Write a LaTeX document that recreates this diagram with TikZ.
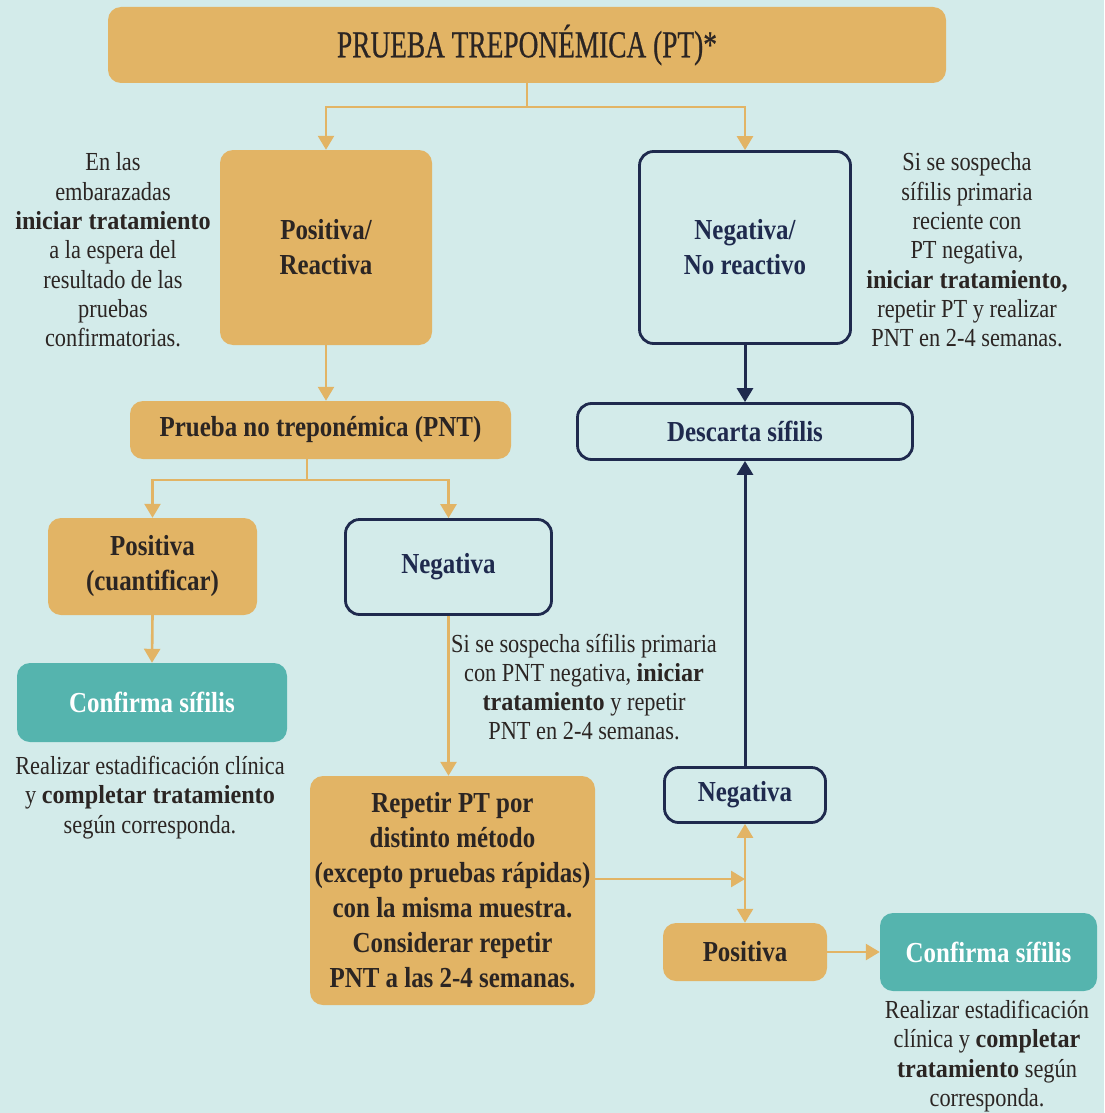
\documentclass[tikz,border=0pt]{standalone}
\usepackage{fontspec}
\setmainfont{Liberation Serif}[FakeStretch=0.86]
\newfontfamily\titlefont{Liberation Serif}[FakeStretch=0.72, FakeBold=0.6]
\newfontfamily\boldwide{Liberation Serif Bold}[FakeStretch=0.93]
\newcommand\hl[1]{{\boldwide #1}}
\usetikzlibrary{arrows.meta}

\definecolor{bg}{HTML}{D3EBEA}
\definecolor{gold}{HTML}{E2B465}
\definecolor{navy}{HTML}{1F2A4E}
\definecolor{tealbox}{HTML}{55B4AE}
\definecolor{ink}{HTML}{2B2523}

\tikzset{
  boxfont/.style={font=\bfseries\fontsize{29}{35}\selectfont},
  goldbox/.style={fill=gold, rounded corners=13pt, text=ink, boxfont, align=center, inner sep=0pt},
  navybox/.style={draw=navy, line width=2.8pt, rounded corners=14pt, text=navy, boxfont, align=center, inner sep=0pt},
  tealbx/.style={fill=tealbox, rounded corners=13pt, text=white, boxfont, align=center, inner sep=0pt},
  note/.style={text=ink, font=\fontsize{26}{29.3}\selectfont, align=center, inner sep=0pt},
  tip/.tip={Triangle[width=16pt,length=14pt]},
  gline/.style={draw=gold, line width=2.6pt},
  garrow/.style={gline, -tip},
  narrow/.style={draw=navy, line width=3pt, -tip},
}

\begin{document}
\begin{tikzpicture}[x=1pt, y=-1pt]
\fill[bg] (0,0) rectangle (1104,1113);
\useasboundingbox (0,0) rectangle (1104,1113);

% title
\node[goldbox, minimum width=838pt, minimum height=76pt,
      font=\titlefont\fontsize{38}{40}\selectfont] (pt) at (527,45) {\raisebox{-2pt}{PRUEBA TREPONÉMICA (PT)*}};

% first level
\node[goldbox, minimum width=212pt, minimum height=195pt] (pos) at (326,247.5) {Positiva/\\Reactiva};
\node[navybox, minimum width=211pt, minimum height=192pt] (neg) at (745,247.5) {Negativa/\\No reactivo};

% non-treponemal test
\node[goldbox, minimum width=381pt, minimum height=58pt] (pnt) at (320.5,430) {Prueba no treponémica (PNT)};
\node[navybox, minimum width=335pt, minimum height=56pt] (desc) at (745,431.5) {Descarta sífilis};

% second level
\node[goldbox, minimum width=209pt, minimum height=97pt] (poscu) at (152.5,566.5) {Positiva\\(cuantificar)};
\node[navybox, minimum width=206pt, minimum height=95pt] (negmid) at (448.5,567) {Negativa};
\node[tealbx, minimum width=270pt, minimum height=79pt] (conf1) at (152,702.5) {Confirma sífilis};

% repeat test
\node[goldbox, minimum width=285pt, minimum height=229pt] (rep) at (452.5,890.5)
  {Repetir PT por\\distinto método\\(excepto pruebas rápidas)\\con la misma muestra.\\Considerar repetir\\PNT a las 2-4 semanas.};
\node[navybox, minimum width=161pt, minimum height=55pt] (negsm) at (745,795) {Negativa};
\node[goldbox, minimum width=164pt, minimum height=58pt] (possm) at (745,952) {Positiva};
\node[tealbx, minimum width=217pt, minimum height=78pt] (conf2) at (988.5,952) {Confirma sífilis};

% side notes
\node[note] (n1) at (113,250) {En las\\embarazadas\\\hl{iniciar tratamiento}\\a la espera del\\resultado de las\\pruebas\\confirmatorias.};
\node[note] (n2) at (967,250) {Si se sospecha\\sífilis primaria\\reciente con\\PT negativa,\\\hl{iniciar tratamiento,}\\repetir PT y realizar\\PNT en 2-4 semanas.};
\node[note] (n3) at (584,687) {Si se sospecha sífilis primaria\\con PNT negativa, \hl{iniciar}\\\hl{tratamiento} y repetir\\PNT en 2-4 semanas.};
\node[note] (n4) at (150,797.5) {Realizar estadificación clínica\\y \hl{completar tratamiento}\\según corresponda.};
\node[note] (n5) at (987,1056) {Realizar estadificación\\clínica y \hl{completar}\\\hl{tratamiento} según\\corresponda.};

% connectors
\coordinate (s1) at (527,107);
\draw[gline] (pt.south) -- (s1);
\draw[garrow] (s1) -| (pos.north);
\draw[garrow] (s1) -| (neg.north);
\draw[garrow] (pos.south) -- (pos.south |- pnt.north);

\coordinate (s2) at (307,480);
\draw[gline] (s2 |- pnt.south) -- (s2);
\draw[garrow] (s2) -| (poscu.north);
\draw[garrow] (s2) -| (negmid.north);
\draw[garrow] (poscu.south) -- (conf1.north);
\draw[garrow] (negmid.south) -- (negmid.south |- rep.north);

\coordinate (j) at (745,879);
\draw[garrow] (rep.east |- j) -- (j);
\draw[gline, tip-tip] (negsm.south) -- (possm.north);
\draw[garrow] (possm.east) -- (conf2.west);

\draw[narrow] (neg.south) -- (desc.north);
\draw[narrow] (negsm.north) -- (desc.south);
\end{tikzpicture}
\end{document}
